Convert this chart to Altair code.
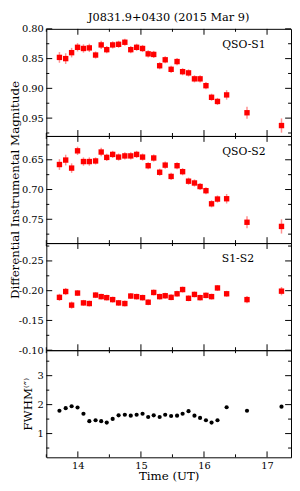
import altair as alt
import pandas as pd

# ---- data ----
time_ut = [13.708, 13.807, 13.901, 13.995, 14.089, 14.182, 14.281, 14.370, 14.458, 14.552,
           14.646, 14.745, 14.839, 14.932, 15.026, 15.115, 15.203, 15.297, 15.385, 15.479,
           15.573, 15.661, 15.755, 15.849, 15.938, 16.031, 16.120, 16.214, 16.359, 16.682, 17.229]

qso_s1 = [0.848, 0.850, 0.840, 0.831, 0.833, 0.832, 0.844, 0.827, 0.835, 0.827,
          0.826, 0.8225, 0.835, 0.831, 0.833, 0.842, 0.843, 0.862, 0.852, 0.868,
          0.855, 0.872, 0.874, 0.884, 0.884, 0.8955, 0.915, 0.922, 0.911, 0.941, 0.9625]
err_s1 = [0.009, 0.009, 0.008, 0.007, 0.007, 0.007, 0.006, 0.007, 0.006, 0.006,
          0.006, 0.006, 0.006, 0.006, 0.006, 0.006, 0.006, 0.006, 0.006, 0.006,
          0.006, 0.006, 0.006, 0.006, 0.006, 0.006, 0.006, 0.006, 0.008, 0.010, 0.012]

qso_s2 = [0.658, 0.6505, 0.664, 0.635, 0.653, 0.653, 0.652, 0.637, 0.646, 0.641,
          0.6455, 0.6435, 0.6435, 0.641, 0.6455, 0.660, 0.647, 0.671, 0.659, 0.678,
          0.660, 0.670, 0.686, 0.689, 0.695, 0.702, 0.724, 0.716, 0.7155, 0.755, 0.762]
err_s2 = [0.009, 0.009, 0.008, 0.007, 0.007, 0.007, 0.006, 0.007, 0.006, 0.006,
          0.006, 0.006, 0.006, 0.006, 0.006, 0.006, 0.006, 0.006, 0.006, 0.006,
          0.006, 0.006, 0.006, 0.006, 0.006, 0.006, 0.006, 0.006, 0.008, 0.010, 0.012]

s1_s2 = [-0.1888, -0.1986, -0.1757, -0.196, -0.1795, -0.1784, -0.1926, -0.190, -0.1883, -0.185,
         -0.1795, -0.1784, -0.191, -0.190, -0.1883, -0.1806, -0.197, -0.190, -0.1915, -0.1888,
         -0.1948, -0.2019, -0.1872, -0.1937, -0.1883, -0.1921, -0.190, -0.2046, -0.1948, -0.185, -0.1992]
err_d = [0.006, 0.006, 0.006, 0.005, 0.005, 0.005, 0.005, 0.005, 0.005, 0.005,
         0.005, 0.005, 0.005, 0.005, 0.005, 0.005, 0.005, 0.005, 0.005, 0.005,
         0.005, 0.005, 0.005, 0.005, 0.005, 0.005, 0.005, 0.005, 0.005, 0.006, 0.007]

fwhm = [1.787, 1.876, 1.944, 1.90, 1.685, 1.427, 1.46, 1.427, 1.38, 1.506,
        1.63, 1.65, 1.618, 1.65, 1.685, 1.573, 1.63, 1.573, 1.65, 1.607,
        1.618, 1.685, 1.775, 1.618, 1.54, 1.46, 1.38, 1.46, 1.91, 1.787, 1.93]

x_major = [14, 15, 16, 17]
x_minor = [13.5, 14.5, 15.5, 16.5]

FONT = "DejaVu Serif"
W, H = 249, 109
XDOM = [13.5, 17.38]
LBL = "(datum.value < 0 ? '-' : '') + format(abs(datum.value), '.2f')"


def xenc(field, show):
    if show:
        ax = alt.Axis(values=x_major, ticks=False, domain=False, grid=False,
                      labelPadding=3, title="Time (UT)", titlePadding=1, format="d")
    else:
        ax = None
    return alt.X(f"{field}:Q", scale=alt.Scale(domain=XDOM, nice=False, zero=False), axis=ax)


def yenc(field, dom, rev, vals, lexpr, title, tpad):
    ax = alt.Axis(values=vals, ticks=False, domain=False, grid=False, labelExpr=lexpr,
                  labelPadding=3, title=title, titlePadding=tpad)
    return alt.Y(f"{field}:Q", scale=alt.Scale(domain=dom, nice=False, zero=False, reverse=rev),
                 axis=ax)


def tick_layers(ydom, yrev, ymaj, ymin, lexpr, title, tpad, show_x):
    layers = []
    xt = pd.DataFrame({"v": x_major + x_minor, "L": [6] * len(x_major) + [3] * len(x_minor)})
    for L in (6, 3):
        d = xt[xt.L == L]
        layers.append(alt.Chart(d).mark_rule(color="black", strokeWidth=1).encode(
            x=xenc("v", show_x), y=alt.value(0), y2=alt.value(L)))
        layers.append(alt.Chart(d).mark_rule(color="black", strokeWidth=1).encode(
            x=xenc("v", show_x), y=alt.value(H - L), y2=alt.value(H)))
    yt = pd.DataFrame({"v": ymaj + ymin, "L": [6] * len(ymaj) + [3] * len(ymin)})
    for L in (6, 3):
        d = yt[yt.L == L]
        layers.append(alt.Chart(d).mark_rule(color="black", strokeWidth=1).encode(
            y=yenc("v", ydom, yrev, ymaj, lexpr, title, tpad), x=alt.value(0), x2=alt.value(L)))
        layers.append(alt.Chart(d).mark_rule(color="black", strokeWidth=1).encode(
            y=yenc("v", ydom, yrev, ymaj, lexpr, title, tpad), x=alt.value(W - L), x2=alt.value(W)))
    return layers


def mag_panel(vals, errs, ydom, yrev, ymaj, ymin, label, lx, title=None, tpad=4):
    df = pd.DataFrame({"t": time_ut, "m": vals,
                       "lo": [v - e for v, e in zip(vals, errs)],
                       "hi": [v + e for v, e in zip(vals, errs)]})
    bars = alt.Chart(df).mark_rule(color="#ff9090", strokeWidth=1.5).encode(
        x=xenc("t", False),
        y=yenc("lo", ydom, yrev, ymaj, LBL, title, tpad),
        y2="hi")
    pts = alt.Chart(df).mark_square(color="#ff0000", opacity=1, size=30).encode(
        x=xenc("t", False),
        y=yenc("m", ydom, yrev, ymaj, LBL, title, tpad))
    lab = alt.Chart(pd.DataFrame({"lab": [label]})).mark_text(
        font=FONT, fontSize=11, color="black", align="center").encode(
        x=alt.value(lx), y=alt.value(16), text="lab:N")
    return alt.layer(*tick_layers(ydom, yrev, ymaj, ymin, LBL, title, tpad, False),
                     bars, pts, lab).properties(width=W, height=H)


p1 = mag_panel(qso_s1, err_s1, [0.80, 0.98], True, [0.80, 0.85, 0.90, 0.95],
               [0.825, 0.875, 0.925, 0.975], "QSO-S1", 201).properties(
    title=alt.TitleParams("J0831.9+0430 (2015 Mar 9)", font=FONT, fontSize=11.5,
                          fontWeight="normal", anchor="middle", frame="group", offset=0))
p2 = mag_panel(qso_s2, err_s2, [0.61, 0.79], True, [0.65, 0.70, 0.75],
               [0.625, 0.675, 0.725, 0.775], "QSO-S2", 201,
               title="Differential Instrumental Magnitude", tpad=0)
p3 = mag_panel(s1_s2, err_d, [-0.28, -0.10], True, [-0.25, -0.20, -0.15, -0.10],
               [-0.275, -0.225, -0.175, -0.125], "S1-S2", 195)

FLBL = "format(datum.value, 'd')"
fdf = pd.DataFrame({"t": time_ut, "f": fwhm})
f_y = yenc("f", [0.18, 3.88], False, [1, 2, 3], FLBL, "FWHM⁽″⁾", 3)
fpts = alt.Chart(fdf).mark_circle(color="black", opacity=1, size=18).encode(
    x=xenc("t", True), y=f_y)
p4 = alt.layer(*tick_layers([0.18, 3.88], False, [1, 2, 3], [0.5, 1.5, 2.5, 3.5], FLBL,
                            "FWHM⁽″⁾", 3, True), fpts).properties(width=W, height=H)

chart = alt.vconcat(p1, p2, p3, p4, spacing=0, bounds="flush").properties(
    padding={"left": 0, "top": 0, "right": 0, "bottom": 0}
).configure_axis(
    labelFont=FONT, labelFontSize=10, labelColor="black",
    titleFont=FONT, titleFontSize=12, titleFontWeight="normal", titleColor="black"
).configure_view(stroke="black", strokeWidth=1)

chart.save("out.html", embed_options={"renderer": "svg", "actions": False})
